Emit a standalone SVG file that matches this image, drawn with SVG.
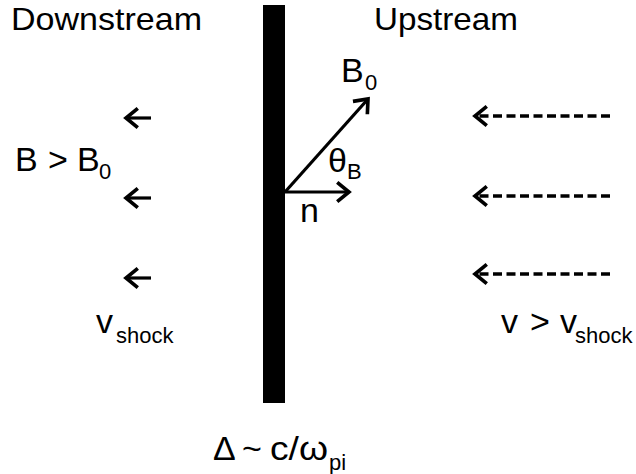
<svg xmlns="http://www.w3.org/2000/svg" width="636" height="474" viewBox="0 0 636 474">
  <defs>
    <style>
      text { font-family: "Liberation Sans", Arial, sans-serif; fill: #000; }
      .t { font-size: 34px; }
      .h { font-size: 32px; }
      .s { font-size: 22px; }
      .arr { stroke: #000; stroke-width: 3.2; fill: none; }
      .dash { stroke: #000; stroke-width: 3.6; fill: none; stroke-dasharray: 9 4.5; }
    </style>
    <marker id="head" markerUnits="userSpaceOnUse" markerWidth="30" markerHeight="30" viewBox="-16 -14 20 28" refX="0" refY="0" orient="auto">
      <path d="M-11,-9 L0,0 L-11,9" stroke="#000" stroke-width="3.4" fill="none" stroke-dasharray="none" stroke-linejoin="miter"/>
    </marker>
  </defs>
  <rect width="636" height="474" fill="#fff"/>

  <g id="shock-front">
    <rect x="263" y="5" width="22" height="398" fill="#000"/>
  </g>

  <g id="labels">
    <text class="h" x="11" y="30" textLength="191" lengthAdjust="spacingAndGlyphs">Downstream</text>
    <text class="h" x="374" y="30" textLength="144" lengthAdjust="spacingAndGlyphs">Upstream</text>
    <text class="t" x="15" y="171">B<tspan x="48">&gt;</tspan><tspan x="77">B</tspan><tspan class="s" x="99" dy="8">0</tspan></text>
    <text class="t" x="96" y="333">v<tspan class="s" x="116" dy="10">shock</tspan></text>
    <text class="t" x="501" y="333">v<tspan x="530">&gt;</tspan><tspan x="560">v</tspan><tspan class="s" x="575" dy="10">shock</tspan></text>
    <text class="t" x="213" y="460">Δ<tspan x="242">~</tspan><tspan x="270" textLength="58" lengthAdjust="spacingAndGlyphs">c/ω</tspan><tspan class="s" x="329" dy="10">pi</tspan></text>
    <text class="t" x="341" y="82">B<tspan class="s" x="365" dy="8">0</tspan></text>
    <text class="t" x="328" y="172">θ<tspan class="s" x="347" dy="7">B</tspan></text>
    <text class="t" x="300" y="222">n</text>
  </g>

  <g id="connectors">
    <line class="arr" x1="285" y1="192" x2="368" y2="99" marker-end="url(#head)"/>
    <line class="arr" x1="285" y1="192" x2="349" y2="192" marker-end="url(#head)"/>
    <line class="arr" x1="151" y1="118" x2="126" y2="118" marker-end="url(#head)"/>
    <line class="arr" x1="151" y1="198" x2="126" y2="198" marker-end="url(#head)"/>
    <line class="arr" x1="151" y1="278" x2="126" y2="278" marker-end="url(#head)"/>
    <line class="dash" x1="610" y1="116" x2="475" y2="116" marker-end="url(#head)"/>
    <line class="dash" x1="610" y1="196" x2="475" y2="196" marker-end="url(#head)"/>
    <line class="dash" x1="610" y1="274" x2="475" y2="274" marker-end="url(#head)"/>
  </g>
</svg>
